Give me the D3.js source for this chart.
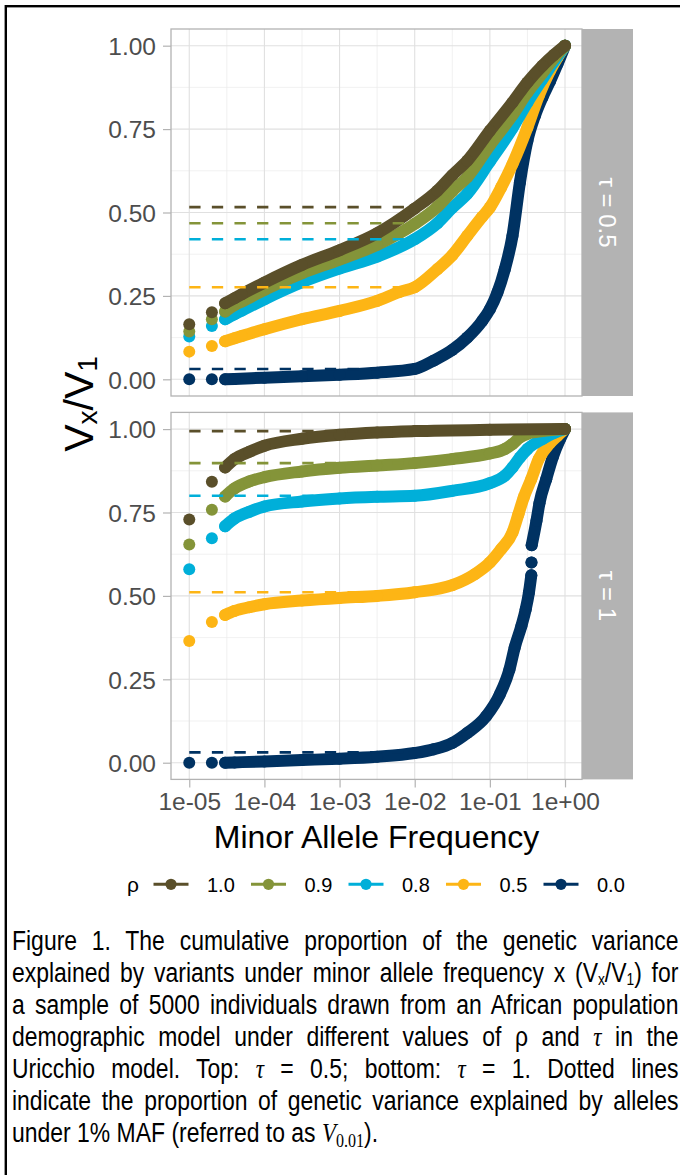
<!DOCTYPE html>
<html lang="en">
<head>
<meta charset="utf-8">
<title>cumulative genetic variance by MAF</title>
<script src="https://cdn.jsdelivr.net/npm/d3@7"></script>
<style>
body { margin: 0; background: #fff; }
#fig { position: relative; width: 680px; height: 1175px; overflow: hidden; }
#fig svg { position: absolute; left: 0; top: 0; }
.caption {
    position: absolute; left: 12px; top: 925px; width: 784px;
    transform: scaleX(0.85); transform-origin: 0 0;
    font-family: "Liberation Sans", Arial, sans-serif;
    font-size: 27px; line-height: 32px; color: #000;
}
.caption div { text-align: justify; text-align-last: justify; height: 32px; }
.caption div.last { text-align-last: left; }
.caption sub { font-size: 0.6em; vertical-align: -0.2em; line-height: 0; }
.caption .m { font-family: "Liberation Serif", "DejaVu Serif", serif; font-style: italic; }
.caption .ms { font-family: "Liberation Serif", "DejaVu Serif", serif; font-size: 0.7em; vertical-align: -0.25em; line-height: 0; }
</style>
</head>
<body>
<div id="fig"></div>
<script>

// ---- data ----
var rhoLevels = ["1.0", "0.9", "0.8", "0.5", "0.0"];
var tauLabels = ["\u03c4 = 0.5", "\u03c4 = 1"];
var xTicks = [1e-5, 1e-4, 1e-3, 1e-2, 1e-1, 1];
var xTickLabels = ["1e-05", "1e-04", "1e-03", "1e-02", "1e-01", "1e+00"];
var yTicks = [0, 0.25, 0.5, 0.75, 1];
var yTickLabels = ["0.00", "0.25", "0.50", "0.75", "1.00"];

// V_0.01 (dashed lines), in rho order
var v001Tau05 = [0.516, 0.468, 0.420, 0.276, 0.031];
var v001Tau1  = [0.994, 0.898, 0.800, 0.511, 0.031];

// cumulative curves [MAF, Vx/V1]; null = break in the run of points
var tau05Rho10 = [[1e-5,.165],[2e-5,.201],[3e-5,.228],[4e-5,.243],[5e-5,.255],[1e-4,.290],[3.16e-4,.343],[1e-3,.387],[3.16e-3,.438],[1e-2,.512],[2e-2,.565],[3.16e-2,.612],[5e-2,.655],[0.1,.745],[0.2,.83],[0.316,.89],[0.5,.94],[0.708,.972],[1,1]];
var tau05Rho09 = [[1e-5,.143],[2e-5,.180],[3e-5,.203],[4e-5,.223],[5e-5,.233],[1e-4,.268],[3.16e-4,.318],[1e-3,.359],[3.16e-3,.403],[1e-2,.466],[2e-2,.517],[3.16e-2,.564],[5e-2,.606],[0.1,.702],[0.2,.792],[0.316,.86],[0.5,.918],[0.708,.962],[1,1]];
var tau05Rho08 = [[1e-5,.128],[2e-5,.160],[3e-5,.180],[4e-5,.195],[5e-5,.206],[1e-4,.240],[3.16e-4,.291],[1e-3,.332],[3.16e-3,.368],[1e-2,.420],[2e-2,.468],[3.16e-2,.514],[5e-2,.556],[0.1,.653],[0.2,.753],[0.316,.83],[0.5,.90],[0.708,.952],[1,1]];
var tau05Rho05 = [[1e-5,.083],[2e-5,.100],[3e-5,.114],[4e-5,.123],[5e-5,.130],[1e-4,.150],[3.16e-4,.180],[1e-3,.205],[3.16e-3,.235],[6.3e-3,.262],[1e-2,.276],[2e-2,.33],[3.16e-2,.372],[5e-2,.43],[7.9e-2,.487],[0.1,.515],[0.141,.575],[0.2,.645],[0.316,.755],[0.447,.85],[0.631,.925],[0.794,.965],[1,1]];
var tau05Rho00 = [[1e-5,0],[2e-5,0],[3e-5,0],[4e-5,.001],[1e-4,.005],[3.16e-4,.009],[1e-3,.014],[3.16e-3,.020],[1e-2,.031],[1.78e-2,.056],[3.16e-2,.088],[5e-2,.125],[7.9e-2,.175],[0.1,.21],[0.126,.26],[0.158,.33],[0.2,.43],[0.251,.59],[0.316,.715],[0.398,.79],[0.5,.845],[0.631,.893],[0.794,.945],[1,1]];

var tau1Rho10 = [[1e-5,.729],[2e-5,.842],[3e-5,.885],[4e-5,.91],[6.3e-5,.932],[1e-4,.950],[3.16e-4,.971],[1e-3,.983],[3.16e-3,.99],[1e-2,.994],[0.1,.998],[1,1]];
var tau1Rho09 = [[1e-5,.654],[2e-5,.758],[3e-5,.798],[4e-5,.822],[6.3e-5,.843],[1e-4,.856],[3.16e-4,.873],[1e-3,.884],[3.16e-3,.891],[1e-2,.898],[3.16e-2,.91],[0.1,.927],[0.158,.94],[0.2,.955],[0.251,.975],[0.316,.986],[0.5,.994],[1,1]];
var tau1Rho08 = [[1e-5,.580],[2e-5,.673],[3e-5,.709],[4e-5,.732],[6.3e-5,.752],[1e-4,.768],[3.16e-4,.783],[1e-3,.792],[3.16e-3,.797],[1e-2,.800],[3.16e-2,.815],[0.1,.838],[0.158,.86],[0.2,.885],[0.251,.915],[0.316,.94],[0.5,.97],[0.708,.988],[1,1]];
var tau1Rho05 = [[1e-5,.365],[2e-5,.422],[3e-5,.443],[4e-5,.455],[6.3e-5,.466],[1e-4,.475],[3.16e-4,.486],[1e-3,.494],[3.16e-3,.50],[1e-2,.511],[3.16e-2,.532],[6.3e-2,.565],[0.1,.60],[0.141,.64],[0.2,.69],[0.24,.745],[0.282,.795],[0.355,.85],[0.447,.91],[0.631,.958],[0.794,.98],[1,1]];
var tau1Rho00 = [[1e-5,0],[2e-5,0],[3e-5,0],[4e-5,.001],[1e-4,.004],[3.16e-4,.008],[1e-3,.012],[3.16e-3,.018],[1e-2,.029],[1.78e-2,.04],[3.16e-2,.059],[5e-2,.089],[8.9e-2,.139],[0.135,.204],[0.182,.279],[0.214,.345],[0.263,.41],[0.3,.46],[0.331,.51],[0.356,.562],null,[0.358,.600],null,[0.36,.652],[0.417,.725],[0.457,.778],[0.562,.85],[0.692,.918],[0.851,.968],[1,1]];

var captionLines = [
  "Figure 1. The cumulative proportion of the genetic variance",
  "explained by variants under minor allele frequency x (V<sub>x</sub>/V<sub>1</sub>) for",
  "a sample of 5000 individuals drawn from an African population",
  "demographic model under different values of \u03c1 and <span class='m'>\u03c4</span> in the",
  "Uricchio model. Top: <span class='m'>\u03c4</span> = 0.5; bottom: <span class='m'>\u03c4</span> = 1. Dotted lines",
  "indicate the proportion of genetic variance explained by alleles",
  "under 1% MAF (referred to as <span class='m'>V</span><span class='ms'>0.01</span>)."
];

// ---- styles / layout ----
var colors = ["#5a4f2a", "#849439", "#00afd9", "#fdb515", "#003262"];
var font = "'Liberation Sans', Arial, sans-serif";
var panelLeft = 171, panelRight = 582, stripW = 51, panelH = 367;
var panelTops = [29, 412.4];
var dotR = 6, denseFrom = 3e-5;

var panels = [
  {tau: tauLabels[0], v001: v001Tau05, curves: [tau05Rho10, tau05Rho09, tau05Rho08, tau05Rho05, tau05Rho00]},
  {tau: tauLabels[1], v001: v001Tau1,  curves: [tau1Rho10, tau1Rho09, tau1Rho08, tau1Rho05, tau1Rho00]}
];

var svg = d3.select("#fig").append("svg")
    .attr("width", 680)
    .attr("height", 1175);

// outer frame of the figure
svg.append("rect")
    .attr("x", 5.8).attr("y", 6.2)
    .attr("width", 800).attr("height", 1300)
    .attr("fill", "none")
    .attr("stroke", "#000")
    .attr("stroke-width", 2.4);

var x = d3.scaleLog()
    .domain([Math.pow(10, -5.243), Math.pow(10, 0.226)])
    .range([panelLeft, panelRight]);
var xMinor = [-4.5, -3.5, -2.5, -1.5, -0.5].map(function(e) { return Math.pow(10, e); });
var yMinor = [0.125, 0.375, 0.625, 0.875];

panels.forEach(function(p, pi) {
    var top = panelTops[pi];
    var y = d3.scaleLinear().domain([-0.05, 1.05]).range([top + panelH, top]);
    var g = svg.append("g");

    // grid
    g.selectAll(".ymin").data(yMinor).enter().append("line")
        .attr("x1", panelLeft).attr("x2", panelRight)
        .attr("y1", y).attr("y2", y)
        .attr("stroke", "#ededed").attr("stroke-width", 0.8);
    g.selectAll(".xmin").data(xMinor).enter().append("line")
        .attr("x1", x).attr("x2", x)
        .attr("y1", top).attr("y2", top + panelH)
        .attr("stroke", "#ededed").attr("stroke-width", 0.8);
    g.selectAll(".ymaj").data(yTicks).enter().append("line")
        .attr("x1", panelLeft).attr("x2", panelRight)
        .attr("y1", y).attr("y2", y)
        .attr("stroke", "#e0e0e0").attr("stroke-width", 1.1);
    g.selectAll(".xmaj").data(xTicks).enter().append("line")
        .attr("x1", x).attr("x2", x)
        .attr("y1", top).attr("y2", top + panelH)
        .attr("stroke", "#e0e0e0").attr("stroke-width", 1.1);

    // curves, rho = 0.0 drawn first so rho = 1.0 ends on top
    var line = d3.line()
        .defined(function(d) { return d != null; })
        .x(function(d) { return x(d[0]); })
        .y(function(d) { return y(d[1]); })
        .curve(d3.curveMonotoneX);

    for (var k = p.curves.length - 1; k >= 0; k--) {
        var pts = p.curves[k];
        var dense = pts.map(function(d) { return d && d[0] >= denseFrom ? d : null; });
        g.append("path")
            .attr("d", line(dense))
            .attr("fill", "none")
            .attr("stroke", colors[k])
            .attr("stroke-width", dotR * 2)
            .attr("stroke-linecap", "round")
            .attr("stroke-linejoin", "round");
        g.selectAll(null).data(pts.filter(function(d) { return d != null; })).enter().append("circle")
            .attr("cx", function(d) { return x(d[0]); })
            .attr("cy", function(d) { return y(d[1]); })
            .attr("r", dotR)
            .attr("fill", colors[k]);
    }

    // dashed V_0.01 lines from 1e-05 to 1e-02
    g.selectAll(".v001").data(p.v001).enter().append("line")
        .attr("x1", x(1e-5)).attr("x2", x(1e-2))
        .attr("y1", y).attr("y2", y)
        .attr("stroke", function(d, i) { return colors[i]; })
        .attr("stroke-width", 2.6)
        .attr("stroke-dasharray", "11.3,11.3");

    // panel border
    g.append("rect")
        .attr("x", panelLeft).attr("y", top)
        .attr("width", panelRight - panelLeft).attr("height", panelH)
        .attr("fill", "none").attr("stroke", "#b3b3b3").attr("stroke-width", 1.3);

    // strip
    g.append("rect")
        .attr("x", panelRight).attr("y", top)
        .attr("width", stripW).attr("height", panelH)
        .attr("fill", "#b3b3b3");
    g.append("text")
        .attr("transform", "translate(" + (panelRight + stripW / 2) + "," + (top + panelH / 2) + ") rotate(90)")
        .attr("text-anchor", "middle")
        .attr("dy", "0.36em")
        .attr("fill", "#fff")
        .style("font-family", font)
        .style("font-size", "24px")
        .text(p.tau);

    // y axis
    var ya = g.append("g")
        .attr("transform", "translate(" + panelLeft + ",0)")
        .call(d3.axisLeft(y).tickValues(yTicks)
            .tickFormat(function(d, i) { return yTickLabels[i]; })
            .tickSize(8).tickPadding(7));
    ya.select(".domain").remove();
    ya.selectAll("line").attr("stroke", "#b3b3b3").attr("stroke-width", 1.2);
    ya.selectAll("text").attr("fill", "#4d4d4d")
        .attr("dy", "0.36em")
        .style("font-family", font).style("font-size", "24.5px");

    if (pi === panels.length - 1) {
        var xa = g.append("g")
            .attr("transform", "translate(0," + (top + panelH) + ")")
            .call(d3.axisBottom(x).tickValues(xTicks)
                .tickFormat(function(d, i) { return xTickLabels[i]; })
                .tickSize(8).tickPadding(5));
        xa.select(".domain").remove();
        xa.selectAll("line").attr("stroke", "#b3b3b3").attr("stroke-width", 1.2);
        xa.selectAll("text").attr("fill", "#4d4d4d")
            .style("font-family", font).style("font-size", "24.5px");
    }
});

// axis titles
svg.append("text")
    .attr("x", (panelLeft + panelRight) / 2)
    .attr("y", 848)
    .attr("text-anchor", "middle")
    .style("font-family", font).style("font-size", "32px")
    .text("Minor Allele Frequency");

var yt = svg.append("text")
    .attr("transform", "translate(93,404) rotate(-90)")
    .attr("text-anchor", "middle")
    .style("font-family", font).style("font-size", "41px");
yt.append("tspan").text("V");
yt.append("tspan").attr("font-size", "28px").attr("dy", 4).text("x");
yt.append("tspan").attr("dy", -4).text("/V");
yt.append("tspan").attr("font-size", "28px").attr("dy", 4).text("1");

// legend
var legendY = 884.3, keyX0 = 171, keyStep = 97.5;
svg.append("text")
    .attr("x", 127).attr("y", legendY).attr("dy", "0.36em")
    .style("font-family", font).style("font-size", "21px")
    .text("\u03c1");
var lg = svg.selectAll(".key").data(rhoLevels).enter().append("g")
    .attr("transform", function(d, i) { return "translate(" + (keyX0 + i * keyStep) + "," + legendY + ")"; });
lg.append("line")
    .attr("x1", -17.5).attr("x2", 17.5)
    .attr("stroke", function(d, i) { return colors[i]; })
    .attr("stroke-width", 3);
lg.append("circle")
    .attr("r", 5.6)
    .attr("fill", function(d, i) { return colors[i]; });
lg.append("text")
    .attr("x", 36).attr("dy", "0.36em")
    .style("font-family", font).style("font-size", "20px")
    .text(function(d) { return d; });

// caption
d3.select("#fig").append("div")
    .attr("class", "caption")
    .selectAll("div").data(captionLines).enter().append("div")
    .attr("class", function(d, i) { return i === captionLines.length - 1 ? "last" : null; })
    .html(function(d) { return d; });

</script>
</body>
</html>
